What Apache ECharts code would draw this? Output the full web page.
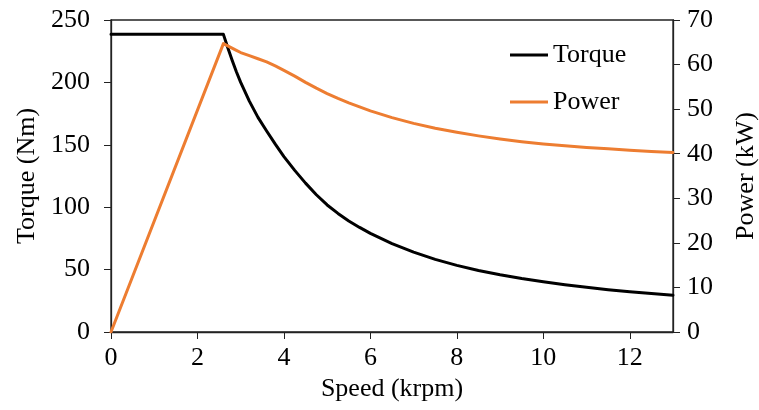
<!DOCTYPE html>
<html>
<head>
<meta charset="utf-8">
<script src="https://cdn.jsdelivr.net/npm/echarts@6/dist/echarts.min.js"></script>
<style>html,body{margin:0;padding:0;background:#fff;}#c{width:759px;height:410px;}</style>
</head>
<body>
<div id="c"></div>
<script>
var speed  = [0, 2.6, 2.7, 2.8, 2.9, 3.0, 3.2, 3.4, 3.6, 3.8, 4.0, 4.25, 4.5, 4.75, 5.0, 5.25, 5.5, 5.75, 6.0, 6.5, 7.0, 7.5, 8.0, 8.5, 9.0, 9.5, 10.0, 10.5, 11.0, 11.5, 12.0, 12.5, 13.0];
var torque = [238.5, 238.5, 228, 218, 208.5, 200, 185, 172, 161, 150.5, 140.5, 129.5, 119.3, 110.0, 101.8, 95.0, 89.0, 83.8, 79.0, 70.8, 64.0, 58.2, 53.4, 49.3, 45.8, 42.8, 40.2, 37.9, 35.8, 33.9, 32.3, 30.8, 29.5];
var power  = [0, 64.7, 64.2, 63.7, 63.2, 62.7, 62.0, 61.3, 60.6, 59.7, 58.7, 57.4, 56.0, 54.7, 53.5, 52.4, 51.4, 50.5, 49.6, 48.1, 46.8, 45.7, 44.8, 44.0, 43.3, 42.7, 42.2, 41.8, 41.4, 41.1, 40.8, 40.5, 40.3];
var seriesNames = ['Torque', 'Power'];
var xTitle = 'Speed (krpm)';
var yLeftTitle = 'Torque (Nm)';
var yRightTitle = 'Power (kW)';

var FONT = 'Liberation Serif';
var FS = 26;
function zip(xs, ys){ return xs.map(function(x,i){ return [x, ys[i]]; }); }

var chart = echarts.init(document.getElementById('c'), null, {renderer:'canvas'});
chart.setOption({
  animation: false,
  backgroundColor: '#fff',
  grid: {left: 111, right: 86, top: 20, bottom: 78, show: true, borderColor: '#222', borderWidth: 1.3, containLabel: false, outerBoundsMode: 'none'},
  legend: {
    data: seriesNames,
    orient: 'vertical',
    left: 505, top: 37,
    itemWidth: 38, itemHeight: 3,
    itemGap: 21,
    icon: 'rect',
    textStyle: {fontFamily: FONT, fontSize: FS, color: '#000'}
  },
  xAxis: {
    type: 'value', min: 0, max: 13, interval: 2,
    name: xTitle, nameLocation: 'middle', nameGap: 42,
    nameTextStyle: {fontFamily: FONT, fontSize: FS, color: '#000'},
    axisLine: {show: true, lineStyle: {color: '#222', width: 1.3}},
    axisTick: {show: true, inside: false, length: 7, lineStyle: {color: '#222'}},
    axisLabel: {fontFamily: FONT, fontSize: FS, color: '#000', margin: 13, showMaxLabel: false},
    splitLine: {show: false}
  },
  yAxis: [{
    type: 'value', min: 0, max: 250, interval: 50, position: 'left',
    name: yLeftTitle, nameLocation: 'middle', nameGap: 70, nameRotate: 90,
    nameTextStyle: {fontFamily: FONT, fontSize: FS, color: '#000'},
    axisLine: {show: true, lineStyle: {color: '#222', width: 1.3}},
    axisTick: {show: true, inside: false, length: 7, lineStyle: {color: '#222'}},
    axisLabel: {fontFamily: FONT, fontSize: FS, color: '#000', margin: 21},
    splitLine: {show: false}
  }, {
    type: 'value', min: 0, max: 70, interval: 10, position: 'right',
    name: yRightTitle, nameLocation: 'middle', nameGap: 60, nameRotate: 90,
    nameTextStyle: {fontFamily: FONT, fontSize: FS, color: '#000'},
    axisLine: {show: true, lineStyle: {color: '#222', width: 1.3}},
    axisTick: {show: true, inside: false, length: 7, lineStyle: {color: '#222'}},
    axisLabel: {fontFamily: FONT, fontSize: FS, color: '#000', margin: 14},
    splitLine: {show: false}
  }],
  series: [{
    name: seriesNames[0], type: 'line', yAxisIndex: 0,
    data: zip(speed, torque), showSymbol: false, symbol: 'none',
    lineStyle: {color: '#000', width: 3, join: 'round', cap: 'round'}, itemStyle: {color: '#000'}
  }, {
    name: seriesNames[1], type: 'line', yAxisIndex: 1,
    data: zip(speed, power), showSymbol: false, symbol: 'none',
    lineStyle: {color: '#ED7D31', width: 3, join: 'round', cap: 'round'}, itemStyle: {color: '#ED7D31'}
  }]
});
</script>
</body>
</html>
